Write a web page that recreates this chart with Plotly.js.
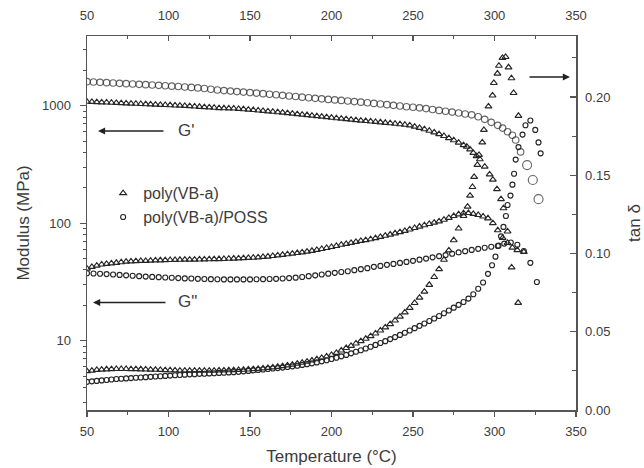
<!DOCTYPE html>
<html>
<head>
<meta charset="utf-8">
<script src="https://cdn.plot.ly/plotly-3.0.1.min.js"></script>
<style>
html,body{margin:0;padding:0;background:#fff;}
#chart{width:644px;height:468px;}
</style>
</head>
<body>
<div id="chart"></div>
<script>
// ---- data ----
// Storage modulus G' (MPa), poly(VB-a) (triangles)
var gpTriT = [50,53,56,59,62,65,68,71,74,77,80,83,86,89,92,95,98,101,104,107,110,113,116,119,122,125,128,131,134,137,140,143,146,149,152,155,158,161,164,167,170,173,176,179,182,185,188,191,194,197,200,203,206,209,212,215,218,221,224,227,230,233,236,239,242,245,248,251,254,257,260,263,266,269,272,275,278,281,283,285,287,289,291,294,297,299,301.5,304,305.5,308,310.5,314.5];
var gpTriV = [1080,1076,1072,1068,1064,1059,1055,1051,1046,1042,1038,1033,1029,1025,1021,1017,1013,1009,1004,1000,995,990,984,978,972,966,960,954,950,948,946,940,933,925,918,910,902,895,888,880,872,864,856,848,840,832,823,815,806,798,790,782,776,768,761,754,746,740,734,728,722,715,709,702,695,688,679,664,648,630,612,592,572,552,530,508,485,462,448,425,397,372,350,303,260,235,195,160,134,85,42,21];
// Storage modulus G' (MPa), poly(VB-a)/POSS (circles)
var gpCirT = [50,54,58,62,66,70,74,78,82,86,90,94,98,102,106,110,114,118,122,126,130,134,138,142,146,150,154,158,162,166,170,174,178,182,186,190,194,198,202,206,210,214,218,222,226,230,234,238,242,246,250,254,258,262,266,270,274,278,282,286,290,294,298,302,305,308,311,313,316,320,323.5,327];
var gpCirV = [1600,1590,1580,1570,1561,1550,1540,1530,1520,1510,1500,1490,1478,1466,1455,1443,1430,1416,1400,1380,1360,1345,1330,1318,1305,1292,1280,1266,1252,1238,1224,1210,1196,1182,1168,1155,1143,1131,1120,1108,1096,1084,1072,1059,1046,1033,1020,1006,993,980,970,958,944,928,912,897,882,866,850,836,805,765,722,680,645,600,560,510,404,312,233,160];
// Loss modulus G'' (MPa), poly(VB-a) (triangles)
var gppTriT = [50,53,56,59,62,65,68,71,74,77,80,83,86,89,92,95,98,101,104,107,110,113,116,119,122,125,128,131,134,137,140,143,146,149,152,155,158,161,164,167,170,173,176,179,182,185,188,191,194,197,200,203,206,209,212,215,218,221,224,227,230,233,236,239,242,245,248,251,254,257,260,263,266,269,272,275,278,281,284,287,290,293,296,299,302,305,308,311,314,318];
var gppTriV = [41,42.5,43.5,44.5,45,45.5,46,46.5,47,47.3,47.5,47.7,47.8,48,48.2,48.3,48.5,48.6,48.7,48.8,48.9,49,49,49.1,49.2,49.3,49.4,49.5,49.6,49.8,50,50.2,50.4,50.6,50.8,51.2,51.6,52,52.6,53.2,53.8,54.4,55,55.7,56.4,57.2,58.2,59.2,60.3,61.5,62.7,64,65.5,66.7,68,69.3,70.6,71.8,73,74.6,76.4,78.2,80,82,84,86,88.4,91,93.6,96,98.5,101,103.5,107,111,115,119,121.5,122,120,117.5,114,110,100,87,75,68,62,59,57];
// Loss modulus G'' (MPa), poly(VB-a)/POSS (circles)
var gppCirT = [50,54,58,62,66,70,74,78,82,86,90,94,98,102,106,110,114,118,122,126,130,134,138,142,146,150,154,158,162,166,170,174,178,182,186,190,194,198,202,206,210,214,218,222,226,230,234,238,242,246,250,254,258,262,266,270,274,278,282,286,290,294,298,302,306,310,314,318,322,326];
var gppCirV = [37.5,37.3,37.1,36.9,36.6,36.3,36,35.7,35.4,35.1,34.9,34.7,34.5,34.3,34.1,33.9,33.8,33.6,33.5,33.4,33.3,33.2,33.2,33.2,33.2,33.2,33.3,33.4,33.5,33.6,33.8,34.1,34.4,34.8,35.4,36,36.6,37.2,37.8,38.4,39,39.8,40.6,41.4,42.5,43.3,44.2,45,45.9,46.8,47.8,48.9,50,51.2,52.4,53.5,54.9,56.4,57.8,59.2,60.5,61.8,63,64,67,68.5,65.5,58,46,31.6];
// tan delta, poly(VB-a) (triangles)
var tdTriT = [50,53,56,59,62,65,68,71,74,77,80,83,86,89,92,95,98,101,104,107,110,113,116,119,122,125,128,131,134,137,140,143,146,149,152,155,158,161,164,167,170,173,176,179,182,185,188,191,194,197,200,203,206,209,212,215,218,221,224,227,230,233,236,239,242,245,248,251,254,257,260,263,266,269,272,275,278,281,283.5,285,286.5,287.5,289.5,290.5,292.5,293.5,296.3,298.8,299.6,301.8,302.7,304.9,306.8,308.6,310.4,311.7,314.7];
var tdTriV = [0.0248,0.0252,0.0256,0.0258,0.0260,0.0261,0.0262,0.0262,0.0262,0.0261,0.0261,0.0260,0.0259,0.0258,0.0257,0.0256,0.0255,0.0254,0.0253,0.0252,0.0252,0.0252,0.0252,0.0252,0.0252,0.0252,0.0252,0.0253,0.0253,0.0254,0.0255,0.0256,0.0257,0.0259,0.0261,0.0263,0.0266,0.0269,0.0272,0.0276,0.0280,0.0285,0.0290,0.0296,0.0302,0.0309,0.0316,0.0324,0.0333,0.0342,0.0352,0.0365,0.0380,0.0396,0.0410,0.0425,0.0440,0.0455,0.0472,0.0489,0.0508,0.0528,0.0549,0.0572,0.0597,0.0624,0.0653,0.0684,0.0718,0.0756,0.0800,0.0850,0.0900,0.0960,0.1020,0.1085,0.1160,0.1240,0.1300,0.1370,0.1425,0.1490,0.1566,0.1630,0.1710,0.1790,0.1940,0.2010,0.2090,0.2150,0.2200,0.2250,0.2256,0.2190,0.2120,0.2026,0.1880];
// tan delta, poly(VB-a)/POSS (circles)
var tdCirT = [50,53,56,59,62,65,68,71,74,77,80,83,86,89,92,95,98,101,104,107,110,113,116,119,122,125,128,131,134,137,140,143,146,149,152,155,158,161,164,167,170,173,176,179,182,185,188,191,194,197,200,203,206,209,212,215,218,221,224,227,230,233,236,239,242,245,248,251,254,257,260,263,266,269,272,275,278,281,284,287,290,293,296,298.5,300.6,302.5,304,305.5,307,308,309.8,311,312,313,314.7,317.2,319,322,325,327,328.3];
var tdCirV = [0.0180,0.0183,0.0186,0.0189,0.0192,0.0195,0.0198,0.0200,0.0202,0.0204,0.0206,0.0208,0.0210,0.0212,0.0214,0.0216,0.0218,0.0220,0.0222,0.0224,0.0226,0.0228,0.0229,0.0231,0.0232,0.0234,0.0235,0.0237,0.0238,0.0240,0.0242,0.0244,0.0247,0.0250,0.0253,0.0256,0.0259,0.0262,0.0265,0.0268,0.0271,0.0275,0.0279,0.0283,0.0288,0.0293,0.0298,0.0304,0.0311,0.0318,0.0326,0.0334,0.0343,0.0352,0.0362,0.0372,0.0382,0.0393,0.0404,0.0416,0.0428,0.0440,0.0453,0.0466,0.0480,0.0494,0.0508,0.0523,0.0538,0.0553,0.0569,0.0585,0.0601,0.0618,0.0636,0.0654,0.0672,0.0690,0.0712,0.0740,0.0775,0.0815,0.0870,0.0925,0.0980,0.1050,0.1110,0.1170,0.1240,0.1310,0.1370,0.1440,0.1510,0.1600,0.1680,0.1760,0.1820,0.1850,0.1790,0.1710,0.1640];

var xTicks = [50,100,150,200,250,300,350];
var yLeftTicks = [10,100,1000];
var yLeftMinor = [3,4,5,6,7,8,9,20,30,40,50,60,70,80,90,200,300,400,500,600,700,800,900,2000,3000];
var yRightTicks = [0,0.05,0.10,0.15,0.20];
var seriesNames = ['poly(VB-a)','poly(VB-a)/POSS'];

// ---- styling ----
var FONT = 'Arial, "Liberation Sans", sans-serif';
var MC = '#262626';
var TXT = '#3c3c3c';
var AX = '#555555';

function triMarker(sz){return {symbol:'triangle-up-open', size:sz, color:MC, line:{color:MC, width:1.15}};}
function cirMarker(sz){return {symbol:'circle-open', size:sz, color:MC, line:{color:MC, width:1.15}};}

var gpCirSizes = gpCirT.map(function(t){return t > 318 ? 9 : 6.5;});

var traces = [
  {x:gpTriT, y:gpTriV, type:'scatter', mode:'markers', marker:triMarker(6), showlegend:false, legendgroup:'a', hoverinfo:'skip'},
  {x:gpCirT, y:gpCirV, type:'scatter', mode:'markers', marker:{symbol:'circle-open', size:gpCirSizes, color:MC, line:{color:MC,width:1.15}}, showlegend:false, legendgroup:'b', hoverinfo:'skip'},
  {x:gppTriT, y:gppTriV, type:'scatter', mode:'markers', marker:triMarker(6), name:seriesNames[0], legendgroup:'a', hoverinfo:'skip'},
  {x:gppCirT, y:gppCirV, type:'scatter', mode:'markers', marker:cirMarker(5), name:seriesNames[1], legendgroup:'b', hoverinfo:'skip'},
  {x:tdTriT, y:tdTriV, xaxis:'x2', yaxis:'y2', type:'scatter', mode:'markers', marker:triMarker(6), showlegend:false, hoverinfo:'skip'},
  {x:tdCirT, y:tdCirV, xaxis:'x2', yaxis:'y2', type:'scatter', mode:'markers', marker:cirMarker(5), showlegend:false, hoverinfo:'skip'}
];

var tickFont = {family:FONT, size:13, color:TXT};
var titleFont = {family:FONT, size:17, color:TXT};

var layout = {
  width:644, height:468,
  margin:{l:87, r:68, t:36, b:58},
  paper_bgcolor:'#ffffff', plot_bgcolor:'#ffffff',
  font:{family:FONT, color:TXT},
  showlegend:true,
  legend:{x:0.033, y:0.625, xanchor:'left', yanchor:'top', bgcolor:'rgba(0,0,0,0)', borderwidth:0,
          font:{family:FONT, size:16, color:TXT}, tracegroupgap:0},
  xaxis:{range:[50,350], tickmode:'array', tickvals:xTicks, ticks:'outside', ticklen:5, tickwidth:1.2, tickcolor:AX,
         minor:{dtick:25, tick0:50, ticks:'outside', ticklen:3, tickwidth:1.2, tickcolor:AX},
         showline:true, linecolor:AX, linewidth:1.5, showgrid:false, zeroline:false, tickfont:tickFont,
         ticklabelstandoff:4,
         title:{text:'Temperature (°C)', font:titleFont, standoff:12}},
  xaxis2:{range:[50,350], overlaying:'x', side:'top', anchor:'y2', tickmode:'array', tickvals:xTicks,
          ticks:'inside', ticklen:5, tickwidth:1.2, tickcolor:AX,
          minor:{dtick:25, tick0:50, ticks:'inside', ticklen:3, tickwidth:1.2, tickcolor:AX},
          showline:true, linecolor:AX, linewidth:1.5, showgrid:false, zeroline:false, tickfont:tickFont,
          ticklabelstandoff:9},
  yaxis:{type:'log', range:[0.41,3.593], tickmode:'array', tickvals:yLeftTicks, ticktext:['10','100','1000'],
         ticks:'outside', ticklen:6, tickwidth:1.2, tickcolor:AX,
         minor:{tickmode:'array', tickvals:yLeftMinor, ticks:'outside', ticklen:3, tickwidth:1, tickcolor:AX},
         showline:true, linecolor:AX, linewidth:1.5, showgrid:false, zeroline:false, tickfont:tickFont,
         ticklabelstandoff:6,
         title:{text:'Modulus (MPa)', font:titleFont, standoff:8}},
  yaxis2:{range:[0,0.239], overlaying:'y', side:'right', anchor:'x2', tickmode:'array', tickvals:yRightTicks,
          tickformat:'.2f', ticks:'inside', ticklen:6, tickwidth:1.2, tickcolor:AX,
          minor:{dtick:0.025, tick0:0, ticks:'inside', ticklen:4, tickwidth:1, tickcolor:AX},
          showline:true, linecolor:AX, linewidth:1.5, showgrid:false, zeroline:false, tickfont:tickFont,
          ticklabelstandoff:5,
          title:{text:'tan δ', font:titleFont, standoff:18}},
  annotations:[
    {xref:'paper', yref:'paper', x:0.0225, y:0.746, ax:67, ay:0, text:'', showarrow:true,
     arrowhead:2, arrowsize:1.1, arrowwidth:1.3, arrowcolor:'#222', standoff:0, startstandoff:0},
    {xref:'paper', yref:'paper', x:0.203, y:0.746, text:"G'", showarrow:false, xanchor:'center', yanchor:'middle',
     font:{family:FONT, size:17, color:TXT}},
    {xref:'paper', yref:'paper', x:0.0123, y:0.2874, ax:74, ay:0, text:'', showarrow:true,
     arrowhead:2, arrowsize:1.1, arrowwidth:1.3, arrowcolor:'#222', standoff:0, startstandoff:0},
    {xref:'paper', yref:'paper', x:0.2045, y:0.289, text:'G"', showarrow:false, xanchor:'center', yanchor:'middle',
     font:{family:FONT, size:17, color:TXT}},
    {xref:'paper', yref:'paper', x:0.9877, y:0.8904, ax:-42, ay:0, text:'', showarrow:true,
     arrowhead:2, arrowsize:1.1, arrowwidth:1.3, arrowcolor:'#222', standoff:0, startstandoff:0}
  ]
};

Plotly.newPlot('chart', traces, layout, {displayModeBar:false, staticPlot:true});
</script>
</body>
</html>
